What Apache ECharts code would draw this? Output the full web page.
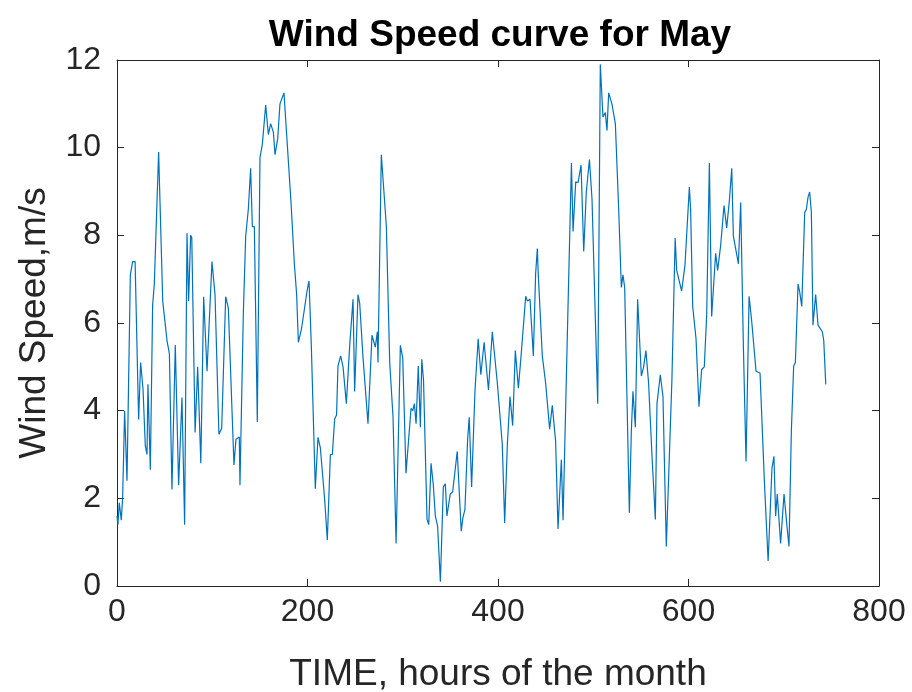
<!DOCTYPE html>
<html>
<head>
<meta charset="utf-8">
<script src="https://cdn.jsdelivr.net/npm/echarts@6/dist/echarts.min.js"></script>
<style>html,body{margin:0;padding:0;background:#fff;}#c{width:912px;height:692px;}</style>
</head>
<body>
<div id="c"></div>
<script>
const hours = [0,1,2.4,4.5,5.9,8,10.5,14,16.4,19,22.7,24.8,27.3,29.7,31.5,32.5,35,37.4,39.2,43.7,48,52.5,55,57.7,61.2,64.7,68.2,71,73.5,75.2,77.3,78.5,82,84.7,88,91,94.5,99.7,
102.9,107,109.9,114.1,116.9,122.8,124.9,128.4,129.1,132.6,135.1,137.9,140.3,142.1,144.2,147.3,150.1,152.6,156.1,158.9,161.3,164.2,165.9,168.7,171.1,175.3,178.1,182.7,186.2,188.6,190.4,193.8,197.3,199.5,
201.6,204,208.2,211,213.5,218,220.8,224,226.1,228.5,230.5,232,234.8,237.3,240.8,244.3,247.8,249.5,253,254.8,258.3,260,263.5,267.7,271.2,273.3,274,277.5,279.5,282.8,286.3,289.8,293,297.5,
300,303.4,305,308.7,310.5,312.2,314,316.3,318.5,320,321.8,325.5,327.3,329.7,332.1,334.2,336.6,339.5,342.6,344.7,346.4,349.9,352.4,357.2,361.4,363.1,365.3,368.1,369.8,372.3,375.8,379.2,382,385.4,390,394,399.3,
404.5,407,409.8,412.6,415.4,418.2,421.4,424.5,429.1,430.9,433.6,437.1,439.5,441.3,442.3,446.5,450,454.2,457,460.5,463,466.5,468.3,472.8,477.1,478.8,481.6,484,487.2,490,492.7,496,498.7,
504.7,507.4,510.2,512.7,514.4,516.2,519.6,523.2,526.7,529.5,531.2,533,537.9,540,541.7,544.2,546.6,550.5,552.9,555.3,558.1,561.7,565.2,566.9,570.4,573.2,576.7,582.6,586,587.6,592.8,596.3,598,
600.9,602.2,604.4,607.9,611,613.8,616.6,619.1,621.9,624.3,628.5,630.6,633.8,637.3,640.1,642.9,645.4,647.1,652.4,654.8,657.6,660.4,663.6,666.4,670.9,675.1,679.7,683.6,687.6,689.7,691.5,693.2,696.7,
700.3,703.4,705.5,708,710.4,712.2,715,716.8,718.9,722,723.8,725.5,727.2,729,730.7,733.5,736,740.5,742,744.1];
const speeds = [1.6,1.4,1.9,1.5,2.0,4.0,2.4,7.1,7.4,7.4,3.8,5.1,4.5,3.2,3.0,4.6,2.65,6.4,6.9,9.9,6.5,5.6,5.3,2.2,5.5,2.3,4.3,1.4,8.05,6.5,8.0,7.95,3.5,5.0,2.8,6.6,4.9,7.4,
6.65,3.46,3.6,6.6,6.34,2.76,3.35,3.4,2.3,6.19,7.98,8.6,9.53,8.2,8.2,3.74,9.77,10.08,10.97,10.3,10.55,10.35,9.84,10.2,11.0,11.25,10.3,8.75,7.35,6.65,5.56,5.88,6.4,6.73,
6.96,5.49,2.22,3.39,3.15,1.98,1.05,3.0,3.0,3.81,3.9,5.02,5.25,5.0,4.16,5.49,6.54,4.44,6.65,6.45,5.21,5.17,3.7,5.72,5.45,5.8,5.1,9.84,9.84,8.2,5.1,3.85,0.97,5.49,
5.2,2.57,2.6,4.05,4.0,4.16,3.7,5.02,3.62,5.17,4.7,1.52,1.4,2.8,2.3,1.6,1.36,0.1,2.26,2.33,1.6,2.1,2.15,3.07,1.25,1.55,1.75,3.35,3.85,2.26,4.44,5.64,4.82,5.56,4.47,5.8,4.63,
3.23,1.44,3.23,4.32,3.66,5.37,4.51,5.33,6.61,6.5,6.54,5.25,7.12,7.7,7.1,5.25,4.63,3.58,4.12,3.3,1.3,2.88,1.5,5.72,9.65,8.09,9.22,9.2,9.6,7.63,8.99,9.73,8.83,
4.16,11.9,10.7,10.8,10.39,11.25,11.0,10.55,8.6,6.81,7.1,6.81,1.67,3.54,4.44,3.62,6.54,4.79,5.0,5.37,4.63,2.96,1.52,4.16,4.82,4.32,0.9,4.71,7.94,7.2,6.73,7.32,7.3,
9.1,8.6,6.38,5.64,4.09,4.94,5.0,6.19,9.65,6.15,7.59,7.2,7.78,8.68,8.17,8.79,9.53,7.98,7.35,8.75,5.49,2.84,6.61,6.03,4.9,4.86,2.37,0.57,2.68,2.96,1.6,2.1,0.97,
2.1,1.36,0.9,3.54,5.02,5.1,6.89,6.7,6.38,8.52,8.6,8.87,8.99,8.52,5.95,6.65,5.95,5.8,5.6,4.6];

const titleText = 'Wind Speed curve for May';
const xName = 'TIME, hours of the month';
const yName = 'Wind Speed,m/s';

const FONT = '"Liberation Sans", Arial, sans-serif';
const AX = '#262626';
const chart = echarts.init(document.getElementById('c'), null, {renderer: 'canvas'});
const data = hours.map((h, i) => [h, speeds[i]]);

const axisLine = () => ({show: true, onZero: false, lineStyle: {color: AX, width: 1}});
const tick = () => ({show: true, inside: true, length: 7, lineStyle: {color: AX, width: 1}});

chart.setOption({
  animation: false,
  backgroundColor: '#fff',
  title: {
    text: titleText, left: 495, top: 12, textAlign: 'center',
    textStyle: {fontFamily: FONT, fontSize: 37, fontWeight: 'bold', color: '#000'}
  },
  grid: {left: 117, right: 33, top: 60, bottom: 106, show: false, containLabel: false, outerBoundsMode: 'none'},
  xAxis: [{
    type: 'value', min: 0, max: 800, interval: 200, position: 'bottom',
    name: xName, nameLocation: 'middle', nameGap: 70,
    nameTextStyle: {fontFamily: FONT, fontSize: 37, color: AX},
    axisLine: axisLine(), axisTick: tick(),
    axisLabel: {fontFamily: FONT, fontSize: 32, color: AX, margin: 10},
    splitLine: {show: false}
  }, {
    type: 'value', min: 0, max: 800, interval: 200, position: 'top',
    axisLine: axisLine(), axisTick: tick(), axisLabel: {show: false}, splitLine: {show: false}
  }],
  yAxis: [{
    type: 'value', min: 0, max: 12, interval: 2, position: 'left',
    name: yName, nameLocation: 'middle', nameGap: 64,
    nameTextStyle: {fontFamily: FONT, fontSize: 37, color: AX},
    axisLine: axisLine(), axisTick: tick(),
    axisLabel: {fontFamily: FONT, fontSize: 32, color: AX, margin: 16},
    splitLine: {show: false}
  }, {
    type: 'value', min: 0, max: 12, interval: 2, position: 'right',
    axisLine: axisLine(), axisTick: tick(), axisLabel: {show: false}, splitLine: {show: false}
  }],
  series: [{
    type: 'line', data: data, xAxisIndex: 0, yAxisIndex: 0,
    showSymbol: false, symbol: 'none',
    lineStyle: {color: '#0072BD', width: 1.2},
    clip: true
  }]
});
</script>
</body>
</html>
